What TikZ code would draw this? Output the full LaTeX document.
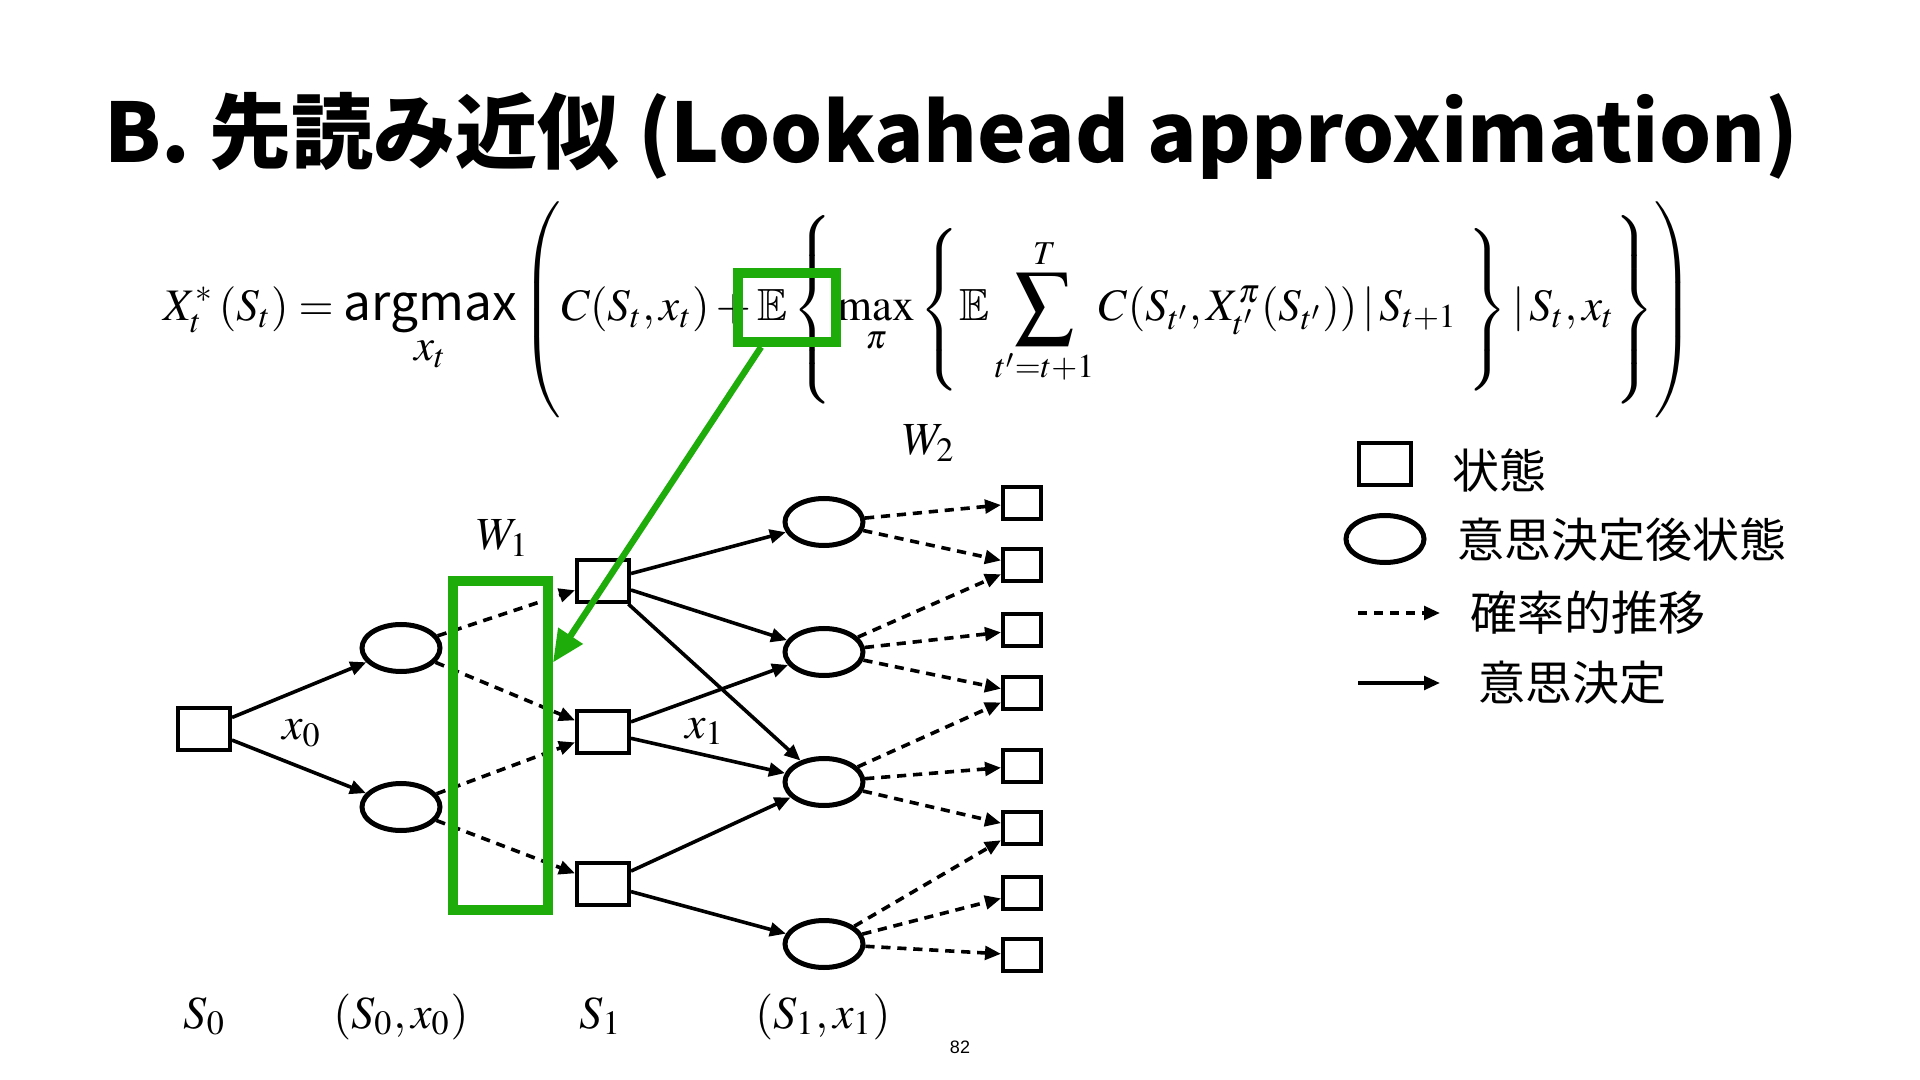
\documentclass[tikz,border=0pt]{standalone}
\usepackage{amsmath,amssymb}
\usepackage{mathptmx}
\usepackage[no-math]{fontspec}
\newfontfamily\jpfont{Noto Sans CJK JP}
\newfontfamily\lsans{Liberation Sans}
\usetikzlibrary{arrows.meta,shapes.geometric,calc}
\definecolor{grn}{RGB}{30,172,10}
\newcommand{\dlim}[1]{\vcenter{\hbox{\vrule height #1 width 0pt}}}
\newcommand{\bigsum}{\mathop{\vcenter{\hbox{\scalebox{1.3}{$\displaystyle\sum$}}}}\limits}
\tikzset{
  st/.style={draw, line width=1pt, minimum width=13pt, minimum height=10.5pt, inner sep=0pt},
  leaf/.style={draw, line width=1pt, minimum width=9.5pt, minimum height=8pt, inner sep=0pt},
  pd/.style={draw, ellipse, line width=1.25pt, minimum width=19.5pt, minimum height=11.75pt, inner sep=0pt},
  dec/.style={line width=0.9pt, -{Triangle[length=4pt,width=3.4pt]}},
  sto/.style={dec, dash pattern=on 2.3pt off 1.7pt},
  lbl/.style={font=\fontsize{11.5pt}{13pt}\selectfont, inner sep=0pt},
  jp/.style={font=\jpfont\fontsize{11.75pt}{14pt}\selectfont, inner sep=0pt},
  gbox/.style={draw=grn, line width=2.5pt, inner sep=0pt},
}
\begin{document}
\begin{tikzpicture}[x=0.25pt,y=-0.25pt]
\useasboundingbox (0,0) rectangle (1920,1080);
\fill[white] (0,0) rectangle (1920,1080);

% title
\node[anchor=base west, inner sep=0pt, font=\jpfont\bfseries\fontsize{20.5pt}{24pt}\selectfont] (title) at (104,163) {B. 先読み近似 (Lookahead approximation)};

% formula
\node[anchor=base west, inner sep=0pt, font=\fontsize{14.3pt}{17pt}\selectfont] (formula) at (163,321) {\resizebox{382.5pt}{!}{$\displaystyle \delimitershortfall=0pt \delimiterfactor=1000
X_t^{*}\left(S_t\right) = \underset{\displaystyle x_t}{\text{\scalebox{1.1}{\jpfont argmax}}}
\left(\dlim{49.5pt} C(S_t,x_t) + \mathbb{E}
\left\{\dlim{44pt} \max_{\pi} \left\{\dlim{38pt} \mathbb{E}\bigsum_{t'=t+1}^{T} C(S_{t'},X_{t'}^{\pi}(S_{t'}))\,|\,S_{t+1}\; \right\} |\,S_t,x_t \right\} \right)$}};

% tree nodes
\node[st] (S0) at (204,729) {};
\node[pd] (E0a) at (401,648) {};
\node[pd] (E0b) at (401,807) {};
\node[st] (S1a) at (603,581) {};
\node[st] (S1b) at (603,732) {};
\node[st] (S1c) at (603,884) {};
\node[pd] (E1a) at (824,522) {};
\node[pd] (E1b) at (824,652) {};
\node[pd] (E1c) at (824,782) {};
\node[pd] (E1d) at (824,944) {};
\node[leaf] (L1) at (1022,503) {};
\node[leaf] (L2) at (1022,565) {};
\node[leaf] (L3) at (1022,630) {};
\node[leaf] (L4) at (1022,693) {};
\node[leaf] (L5) at (1022,766) {};
\node[leaf] (L6) at (1022,828) {};
\node[leaf] (L7) at (1022,893) {};
\node[leaf] (L8) at (1022,955) {};

% decisions
\draw[dec] (S0) -- (E0a);
\draw[dec] (S0) -- (E0b);
\draw[dec] (S1a) -- (E1a);
\draw[dec] (S1a) -- (E1b);
\draw[dec] (S1a) -- (E1c);
\draw[dec] (S1b) -- (E1b);
\draw[dec] (S1b) -- (E1c);
\draw[dec] (S1c) -- (E1c);
\draw[dec] (S1c) -- (E1d);

% stochastic transitions
\draw[sto] (E0a) -- (S1a);
\draw[sto] (E0a) -- (S1b);
\draw[sto] (E0b) -- (S1b);
\draw[sto] (E0b) -- (S1c);
\draw[sto] (E1a) -- (L1);
\draw[sto] (E1a) -- (L2);
\draw[sto] (E1b) -- (L2);
\draw[sto] (E1b) -- (L3);
\draw[sto] (E1b) -- (L4);
\draw[sto] (E1c) -- (L4);
\draw[sto] (E1c) -- (L5);
\draw[sto] (E1c) -- (L6);
\draw[sto] (E1d) -- (L6);
\draw[sto] (E1d) -- (L7);
\draw[sto] (E1d) -- (L8);

% labels
\node[lbl, anchor=base] (lx0) at (302,740) {$x_0$};
\node[lbl, anchor=base] (lx1) at (705,738) {$x_1$};
\node[lbl, anchor=base] (lw1) at (503,550) {$W_1$};
\node[lbl, anchor=base] (lw2) at (929,455) {$W_2$};
\node[lbl, anchor=base] (bS0) at (205,1028) {$S_0$};
\node[lbl, anchor=base] (bSx0) at (401,1028) {$(S_0,x_0)$};
\node[lbl, anchor=base] (bS1) at (601,1028) {$S_1$};
\node[lbl, anchor=base] (bSx1) at (823,1028) {$(S_1,x_1)$};
\node[anchor=base, inner sep=0pt, font=\lsans\fontsize{4.5pt}{5pt}\selectfont] (pg) at (960,1053) {82};

% legend
\node[st] (lgS) at (1385,464) {};
\node[jp, anchor=west] (lgSt) at (1452,470) {状態};
\node[pd] (lgE) at (1385,539) {};
\node[jp, anchor=west] (lgEt) at (1457,540) {意思決定後状態};
\coordinate (lgDa) at (1358,613);
\coordinate (lgDb) at (1440,613);
\draw[sto] (lgDa) -- (lgDb);
\node[jp, anchor=west] (lgDt) at (1470,613) {確率的推移};
\coordinate (lgCa) at (1358,683);
\coordinate (lgCb) at (1440,683);
\draw[dec] (lgCa) -- (lgCb);
\node[jp, anchor=west] (lgCt) at (1478,683) {意思決定};

% green highlights
\node[gbox, minimum width=23.75pt, minimum height=82.25pt] (w1box) at (500.5,745.5) {};
\node[gbox, minimum width=24.5pt, minimum height=17.25pt] (ebox) at (787,307.5) {};
\draw[grn, line width=1.6pt, -{Triangle[length=8pt,width=7pt]}]
  ($(ebox.south west)!0.26!(ebox.south east)$) -- ($(w1box.north east)!0.255!(w1box.south east)$);
\end{tikzpicture}
\end{document}
